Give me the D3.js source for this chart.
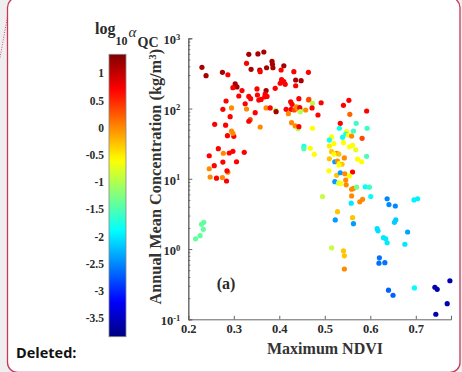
<!DOCTYPE html>
<html><head><meta charset="utf-8">
<script src="https://cdn.jsdelivr.net/npm/d3@7"></script>
<style>body{margin:0;background:#efefef}svg{display:block}</style>
</head><body>
<script>
// ---- data ----
const ndvi = [0.230,0.239,0.275,0.287,0.333,0.353,0.366,0.328,0.338,0.357,0.358,0.372,0.384,0.385,0.386,0.410,0.404,0.432,0.436,0.448,0.464,0.303,0.307,0.298,0.318,0.311,0.351,0.352,0.333,0.337,0.325,0.371,0.369,0.368,0.391,0.405,0.410,0.413,0.402,0.360,0.355,0.373,0.283,0.276,0.295,0.328,0.336,0.333,0.358,0.347,0.371,0.380,0.392,0.393,0.415,0.425,0.428,0.426,0.433,0.440,0.447,0.438,0.445,0.464,0.420,0.427,0.435,0.441,0.443,0.258,0.292,0.282,0.295,0.286,0.300,0.298,0.266,0.246,0.298,0.323,0.277,0.290,0.246,0.248,0.262,0.275,0.284,0.287,0.285,0.306,0.276,0.257,0.216,0.226,0.233,0.229,0.234,0.436,0.443,0.465,0.473,0.472,0.492,0.485,0.446,0.458,0.541,0.553,0.555,0.592,0.473,0.534,0.569,0.593,0.532,0.548,0.563,0.546,0.552,0.559,0.539,0.582,0.515,0.510,0.541,0.520,0.554,0.561,0.568,0.510,0.454,0.454,0.468,0.477,0.515,0.526,0.531,0.520,0.543,0.510,0.572,0.581,0.592,0.522,0.528,0.532,0.538,0.531,0.509,0.526,0.534,0.544,0.561,0.554,0.522,0.546,0.530,0.547,0.535,0.559,0.563,0.570,0.559,0.589,0.598,0.601,0.495,0.577,0.583,0.558,0.637,0.641,0.655,0.696,0.704,0.528,0.561,0.523,0.563,0.653,0.656,0.615,0.617,0.629,0.634,0.637,0.682,0.676,0.515,0.541,0.543,0.543,0.620,0.619,0.632,0.640,0.650,0.697,0.742,0.747,0.775,0.769,0.744];
const conc = [386,294,328,303,592,600,638,441,362,354,335,381,471,427,381,407,354,335,255,249,328,224,203,198,180,151,190,156,149,138,117,180,161,147,194,258,241,221,229,135,132,149,128,97.5,102,98.6,69.4,65.9,54.6,87.3,102,102,94.4,90.2,97.5,125,115,97.5,95.3,99.5,96.3,106,103,132,84.5,62.9,56.5,51.7,55.2,59.7,76.6,58,47.9,41.1,40.3,44.4,26.8,21.3,24.6,23.8,23.1,23.3,13.9,10.6,10.2,10.4,9.3,12.4,13.0,17.5,17.3,15.4,1.40,1.55,1.91,2.25,2.40,211,138,135,119,102,121,80.9,90.2,95.3,111,131,82.8,92.3,52.4,61.7,61.7,52.4,52.4,46.8,47.9,43.4,42.0,40.6,39.0,37.7,39.7,35.6,32.7,31.6,28.6,30.0,25.9,29.3,29.0,26.8,27.2,22.3,24.3,23.1,22.5,22.5,19.8,19.3,19.0,17.5,20.9,17.5,17.9,16.6,16.1,15.7,13.0,11.2,12.2,11.8,12.5,11.0,9.1,9.6,8.7,8.2,8.6,7.1,7.3,7.6,5.7,7.7,7.6,5.6,5.6,4.7,5.1,4.5,5.2,4.3,4.1,5.0,5.2,3.4,2.8,2.6,2.3,2.4,2.6,1.95,1.82,1.45,1.40,1.23,1.75,1.17,1.04,0.94,0.80,0.52,0.75,0.63,0.64,0.26,0.22,0.28,0.286,0.267,0.354,0.167,0.118];
const logAlpha = [1.15,1.15,1.15,0.7,1.15,1.15,1.15,0.7,1.15,1.15,0.7,1.15,1.15,1.15,1.15,1.15,0.7,0.7,1.15,1.15,0.7,1.15,1.15,0.7,0.7,0.7,0.7,0.7,0.7,0.7,0.7,1.15,0.7,0.7,0.7,0.7,0.7,0.7,0.7,0.7,0.7,0.7,0.7,0.7,0.0,0.0,0.35,0.7,0.0,0.7,0.0,0.7,-1.0,1.15,0.7,0.7,0.7,0.7,0.35,0.0,-1.0,0.0,0.7,0.0,0.0,0.0,0.0,-1.0,0.7,0.7,0.7,0.7,0.0,0.7,0.7,0.0,0.7,0.7,0.7,0.7,0.0,0.7,0.0,0.0,0.7,0.0,0.7,0.0,0.7,0.7,0.7,0.7,-1.4,-1.4,-1.4,-1.4,-1.4,0.7,0.7,0.35,-1.0,0.7,0.7,0.7,-1.0,0.0,0.7,0.7,0.2,0.7,-0.6,0.7,-1.6,-1.6,-1.8,-0.6,-1.6,-1.7,-0.6,0.0,-1.85,0.35,-0.6,-1.8,-0.6,-0.6,-0.6,-0.6,-0.7,-0.5,-1.8,-1.5,-0.6,-0.6,-0.3,0.0,-0.3,-0.6,0.0,-0.3,-0.6,-0.6,-1.5,-2.4,0.0,-0.6,-0.3,-0.6,-0.6,-0.3,-2.4,0.0,0.7,-0.6,-2.4,0.0,-0.9,0.0,-0.6,0.0,0.0,-1.3,0.0,-1.9,-1.6,-1.9,-0.9,0.0,0.0,-2.0,-2.5,-2.5,-2.5,-1.95,-1.95,-0.3,-0.3,-2.4,-2.4,-2.15,-2.15,-2.05,-2.05,-2.0,-2.0,-2.0,-2.35,-2.0,-0.9,-0.3,-0.3,0.0,-2.6,-2.6,-2.6,-2.7,-2.7,-1.9,-3.6,-3.6,-3.6,-3.6,-3.6];
const xTicks = [0.2,0.3,0.4,0.5,0.6,0.7];
const yTickExps = [-1,0,1,2,3];
const cbTicks = [1,0.5,0,-0.5,-1,-1.5,-2,-2.5,-3,-3.5];
const cbRange = [-3.84, 1.35];

// ---- setup ----
const W = 462, H = 372;
const serif = "'Liberation Serif','Times New Roman',serif";
const txt = "#2a2a2a";
const svg = d3.select("body").append("svg").attr("width", W).attr("height", H);
svg.append("rect").attr("width", W).attr("height", H).attr("fill", "#efefef");
svg.append("line").attr("x1", 10.5).attr("y1", 0).attr("x2", 0).attr("y2", 58)
  .attr("stroke", "#d44a6a").attr("stroke-width", 1).attr("stroke-dasharray", "1,1.5");
svg.append("rect").attr("x", 7.5).attr("y", -2.5).attr("width", 452.5).attr("height", 375)
  .attr("rx", 10).attr("fill", "#fff").attr("stroke", "#c8385a").attr("stroke-width", 1.3);

function jet(v) {
  const t = (v - cbRange[0]) / (cbRange[1] - cbRange[0]);
  const c = a => Math.max(0, Math.min(1, a));
  const r = c(1.5 - Math.abs(4 * t - 3)), g = c(1.5 - Math.abs(4 * t - 2)), b = c(1.5 - Math.abs(4 * t - 1));
  return d3.rgb(r * 255, g * 255, b * 255).toString();
}

const x = d3.scaleLinear().domain([0.2, 0.7774]).range([188.3, 451]);
const y = d3.scaleLog().domain([0.1, 1000]).range([319.3, 38.3]);

// axes
const minorY = [];
for (let e = -1; e < 3; e++) for (let m = 2; m <= 9; m++) minorY.push(m * Math.pow(10, e));
const gyMinor = svg.append("g").attr("transform", "translate(188.3,0)")
  .call(d3.axisLeft(y).tickValues(minorY).tickSize(-2).tickFormat(""));
const gy = svg.append("g").attr("transform", "translate(188.3,0)")
  .call(d3.axisLeft(y).tickValues(yTickExps.map(e => Math.pow(10, e))).tickSize(-4).tickPadding(8));
gy.selectAll(".tick text").each(function(d) {
  const e = Math.round(Math.log10(d));
  const t = d3.select(this).text(null).attr("font-family", serif).attr("font-weight", "bold")
    .attr("font-size", 12.5).attr("fill", txt).attr("dy", "0.45em");
  t.append("tspan").text("10");
  t.append("tspan").text(e).attr("font-size", 8.5).attr("dy", "-0.55em");
});
const gx = svg.append("g").attr("transform", "translate(0,319.3)")
  .call(d3.axisBottom(x).tickValues(xTicks).tickSize(-3.5).tickPadding(5).tickFormat(d3.format(".1f")));
gx.selectAll(".tick text").attr("font-family", serif).attr("font-weight", "bold")
  .attr("font-size", 12.5).attr("fill", txt);
[gy, gyMinor, gx].forEach(g => {
  g.selectAll(".domain").attr("stroke", "#666");
  g.selectAll(".tick line").attr("stroke", "#666");
});

// points
svg.append("g").selectAll("circle").data(ndvi.map((d, i) => i)).join("circle")
  .attr("cx", i => x(ndvi[i])).attr("cy", i => y(conc[i])).attr("r", 2.6)
  .attr("fill", i => jet(logAlpha[i]));

// labels
svg.append("text").attr("x", 226).attr("y", 289).attr("text-anchor", "middle")
  .attr("font-family", serif).attr("font-weight", "bold").attr("font-size", 16).attr("fill", txt).text("(a)");
svg.append("text").attr("x", 325).attr("y", 354).attr("text-anchor", "middle")
  .attr("font-family", serif).attr("font-weight", "bold").attr("font-size", 16).attr("fill", "#333").text("Maximum NDVI");
const yl = svg.append("text").attr("transform", "translate(161,176.7) rotate(-90)").attr("text-anchor", "middle")
  .attr("font-family", serif).attr("font-weight", "bold").attr("font-size", 16.3).attr("fill", "#333");
yl.append("tspan").text("Annual Mean Concentration (kg/m");
yl.append("tspan").text("3").attr("font-size", 11).attr("dy", "-0.5em");
yl.append("tspan").text(")").attr("dy", "0.33em");

// colorbar
const cb = d3.scaleLinear().domain(cbRange).range([336.7, 54.3]);
const grad = svg.append("defs").append("linearGradient").attr("id", "jet")
  .attr("x1", 0).attr("y1", 1).attr("x2", 0).attr("y2", 0);
d3.range(0, 1.0001, 0.02).forEach(t => {
  grad.append("stop").attr("offset", t).attr("stop-color", jet(cbRange[0] + t * (cbRange[1] - cbRange[0])));
});
svg.append("rect").attr("x", 109).attr("y", cb(cbRange[1])).attr("width", 17)
  .attr("height", cb(cbRange[0]) - cb(cbRange[1])).attr("fill", "url(#jet)")
  .attr("stroke", "#888").attr("stroke-width", 0.8);
svg.append("g").selectAll("text").data(cbTicks).join("text")
  .attr("x", 104).attr("y", d => cb(d)).attr("dy", "0.35em").attr("text-anchor", "end")
  .attr("font-family", serif).attr("font-weight", "bold").attr("font-size", 11.5).attr("fill", txt)
  .text(d => d);

// colorbar title
const tt = (s, xx, yy, fs, extra) => {
  const t = svg.append("text").attr("x", xx).attr("y", yy).attr("font-family", serif)
    .attr("font-weight", "bold").attr("font-size", fs).attr("fill", txt).text(s);
  if (extra) extra(t);
  return t;
};
tt("log", 95, 34, 16);
tt("10", 115.5, 45, 12);
tt("\u03B1", 128.5, 36.5, 15, t => t.attr("font-style", "italic").attr("font-weight", "normal"));
tt("QC", 137.5, 46.5, 14);

// footer
svg.append("text").attr("x", 16).attr("y", 358).attr("font-family", "'Open Sans','Liberation Sans',sans-serif")
  .attr("font-weight", "bold").attr("font-size", 14.5).attr("fill", "#111").text("Deleted:");
</script>
</body></html>
